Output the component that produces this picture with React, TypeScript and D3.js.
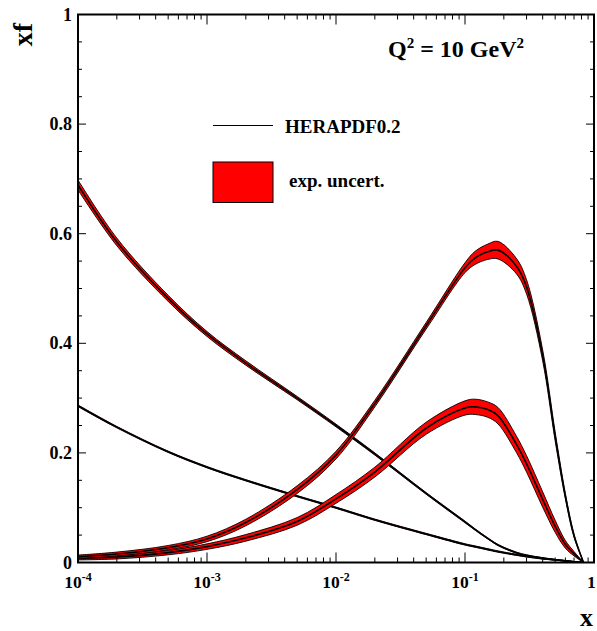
import React from 'react';
import * as d3 from 'd3';

// x grid (momentum fraction)
const xGrid = [1e-4, 2e-4, 5e-4, 1e-3, 2e-3, 5e-3, 0.01, 0.02, 0.05, 0.1, 0.12, 0.15, 0.18, 0.25, 0.3, 0.4, 0.5, 0.6, 0.7, 0.83];

// xg * 0.05
const gluon = [0.689, 0.585, 0.482, 0.417, 0.364, 0.300, 0.250, 0.198, 0.126, 0.074, 0.060, 0.044, 0.032, 0.018, 0.013, 0.008, 0.005, 0.003, 0.0015, 0];
const gluonErr = [0.009, 0.007, 0.0055, 0.0045, 0.004, 0.003, 0.0025, 0.002, 0.0015, 0.0015, 0.0012, 0.001, 0.001, 0.001, 0.001, 0.0008, 0.0006, 0.0004, 0.0002, 0];

// xS * 0.05
const sea = [0.286, 0.247, 0.202, 0.174, 0.150, 0.121, 0.100, 0.078, 0.052, 0.033, 0.029, 0.024, 0.020, 0.014, 0.011, 0.007, 0.005, 0.003, 0.0015, 0];
const seaErr = [0.0015, 0.0013, 0.0012, 0.0012, 0.0012, 0.0012, 0.0012, 0.0012, 0.0012, 0.0012, 0.0012, 0.0012, 0.0012, 0.001, 0.001, 0.0008, 0.0006, 0.0004, 0.0002, 0];

// xu_v
const uValence = [0.0106, 0.0155, 0.027, 0.043, 0.073, 0.133, 0.196, 0.290, 0.432, 0.538, 0.556, 0.567, 0.570, 0.541, 0.503, 0.378, 0.230, 0.121, 0.049, 0];
const uValenceErr = [0.003, 0.0035, 0.004, 0.005, 0.006, 0.007, 0.007, 0.006, 0.006, 0.009, 0.012, 0.014, 0.016, 0.014, 0.013, 0.010, 0.008, 0.005, 0.003, 0];

// xd_v
const dValence = [0.0077, 0.010, 0.018, 0.029, 0.045, 0.075, 0.116, 0.165, 0.245, 0.282, 0.284, 0.279, 0.268, 0.216, 0.180, 0.115, 0.066, 0.033, 0.016, 0];
const dValenceErr = [0.003, 0.0035, 0.004, 0.005, 0.006, 0.007, 0.008, 0.009, 0.011, 0.013, 0.014, 0.014, 0.015, 0.015, 0.015, 0.014, 0.011, 0.007, 0.004, 0];

const xMajorExps = [-4, -3, -2, -1, 0];
const yMajorTicks = [0, 0.2, 0.4, 0.6, 0.8, 1];
const yLabels = ['0', '0.2', '0.4', '0.6', '0.8', '1'];

const W = 597;
const H = 631;
const X0 = 78;
const X1 = 594;
const Y0 = 562.5;
const Y1 = 14.5;
const FONT = '"Liberation Serif", "Times New Roman", serif';

export default function App() {
  const x = d3.scaleLog().domain([1e-4, 1]).range([X0, X1]);
  const y = d3.scaleLinear().domain([0, 1]).range([Y0, Y1]);
  const curve = d3.curveCatmullRom.alpha(0.5);

  const series = [
    { c: gluon, e: gluonErr },
    { c: sea, e: seaErr },
    { c: dValence, e: dValenceErr },
    { c: uValence, e: uValenceErr },
  ];

  const line = (vals: number[]) =>
    d3.line<number>().x((_, i) => x(xGrid[i])).y((d) => y(d)).curve(curve)(vals) || '';
  const area = (lo: number[], hi: number[]) =>
    d3
      .area<number>()
      .x((_, i) => x(xGrid[i]))
      .y0((_, i) => y(lo[i]))
      .y1((_, i) => y(hi[i]))
      .curve(curve)(lo) || '';

  const xMinor: number[] = [];
  for (let e = -4; e < 0; e++) for (let k = 2; k <= 9; k++) xMinor.push(k * Math.pow(10, e));
  const yMinor: number[] = d3.range(0, 1.0001, 0.05).filter((v) => Math.abs(v * 5 - Math.round(v * 5)) > 1e-6);

  return (
    <svg width={W} height={H} style={{ position: 'absolute', left: 0, top: 0, background: '#fff' }} fontFamily={FONT} fontWeight="bold">
      <defs>
        <clipPath id="plot">
          <rect x={X0} y={Y1} width={X1 - X0} height={Y0 - Y1} />
        </clipPath>
      </defs>
      <rect x={0} y={0} width={W} height={H} fill="#fff" />
      <g clipPath="url(#plot)">
        {series.map((s, i) => {
          const lo = s.c.map((v, j) => Math.max(0, v - s.e[j]));
          const hi = s.c.map((v, j) => v + s.e[j]);
          return (
            <g key={i}>
              <path d={area(lo, hi)} fill="#ff0000" stroke="none" />
              <path d={line(lo)} fill="none" stroke="#000" strokeWidth={0.9} />
              <path d={line(hi)} fill="none" stroke="#000" strokeWidth={0.9} />
              <path d={line(s.c)} fill="none" stroke="#000" strokeWidth={1.6} />
            </g>
          );
        })}
      </g>
      {/* ticks */}
      <g stroke="#000" strokeWidth={1}>
        {xMajorExps.map((e) => {
          const px = x(Math.pow(10, e));
          return (
            <g key={'xm' + e}>
              <line x1={px} x2={px} y1={Y0} y2={Y0 - 10} />
              <line x1={px} x2={px} y1={Y1} y2={Y1 + 10} />
            </g>
          );
        })}
        {xMinor.map((v, i) => {
          const px = x(v);
          return (
            <g key={'xn' + i}>
              <line x1={px} x2={px} y1={Y0} y2={Y0 - 5} />
              <line x1={px} x2={px} y1={Y1} y2={Y1 + 5} />
            </g>
          );
        })}
        {yMajorTicks.map((v) => {
          const py = y(v);
          return (
            <g key={'ym' + v}>
              <line x1={X0} x2={X0 + 8} y1={py} y2={py} />
              <line x1={X1} x2={X1 - 8} y1={py} y2={py} />
            </g>
          );
        })}
        {yMinor.map((v, i) => {
          const py = y(v);
          return (
            <g key={'yn' + i}>
              <line x1={X0} x2={X0 + 4} y1={py} y2={py} />
              <line x1={X1} x2={X1 - 4} y1={py} y2={py} />
            </g>
          );
        })}
      </g>
      <rect x={X0} y={Y1} width={X1 - X0} height={Y0 - Y1} fill="none" stroke="#000" strokeWidth={2} />
      {/* y labels */}
      {yMajorTicks.map((v, i) => (
        <text key={'yl' + v} x={72} y={y(v) + 6} textAnchor="end" fontSize={18}>
          {yLabels[i]}
        </text>
      ))}
      {/* x labels */}
      {xMajorExps.map((e) => (
        <text key={'xl' + e} x={e === 0 ? 587 : x(Math.pow(10, e))} y={588} textAnchor={e === 0 ? 'start' : 'middle'} fontSize={17.5}>
          {e === 0 ? (
            '1'
          ) : (
            <>
              <tspan>10</tspan>
              <tspan dy={-7} fontSize={12}>{String(e)}</tspan>
            </>
          )}
        </text>
      ))}
      {/* axis titles */}
      <text x={580} y={626} fontSize={26}>x</text>
      <text transform="translate(32,34.5) rotate(-90)" textAnchor="middle" fontSize={28}>xf</text>
      {/* Q2 label */}
      <text x={388} y={57} fontSize={24}>
        <tspan>Q</tspan>
        <tspan dy={-9} fontSize={15}>2</tspan>
        <tspan dy={9}> = 10 GeV</tspan>
        <tspan dy={-9} fontSize={15}>2</tspan>
      </text>
      {/* legend */}
      <line x1={213} x2={273} y1={125.5} y2={125.5} stroke="#000" strokeWidth={1} />
      <text x={285} y={133} fontSize={19}>HERAPDF0.2</text>
      <rect x={213} y={162} width={60} height={40.5} fill="#ff0000" stroke="#000" strokeWidth={1} />
      <text x={289} y={187} fontSize={19}>exp. uncert.</text>
    </svg>
  );
}
